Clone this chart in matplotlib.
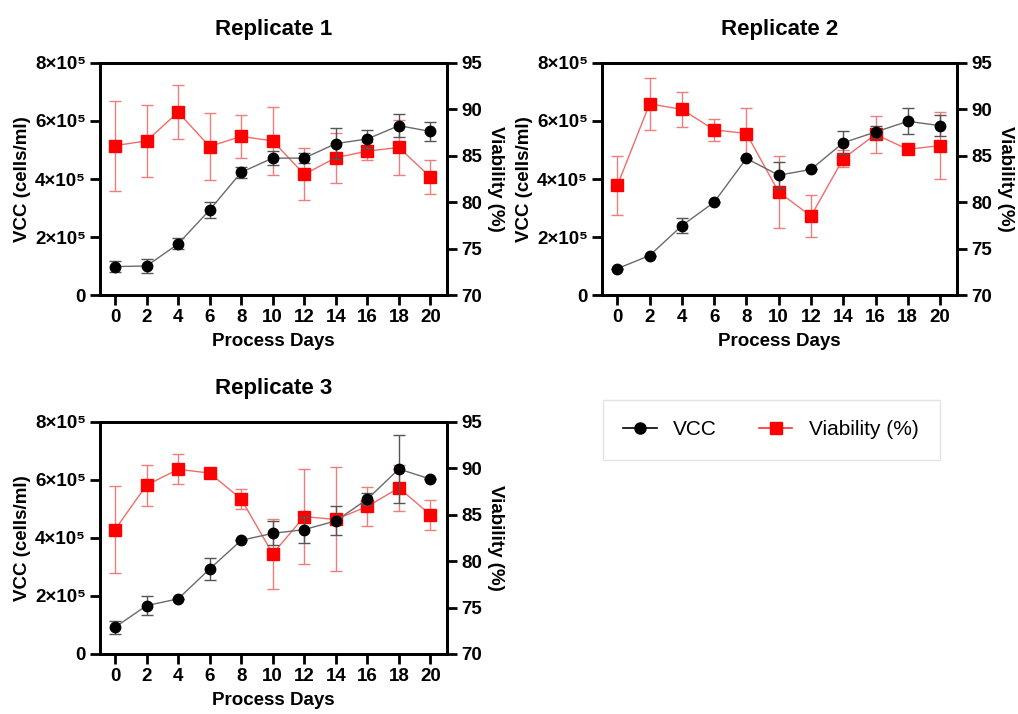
import numpy as np
import matplotlib
matplotlib.use("Agg")
import matplotlib.pyplot as plt
from matplotlib.lines import Line2D

plt.rcParams['font.family'] = ['Liberation Sans', 'DejaVu Sans']

days = [0, 2, 4, 6, 8, 10, 12, 14, 16, 18, 20]

# VCC (x1e5 cells/ml) and SD
vcc_1 = [0.98, 1.00, 1.76, 2.93, 4.23, 4.72, 4.72, 5.22, 5.38, 5.84, 5.64]
vcc_1_err = [0.20, 0.24, 0.19, 0.28, 0.20, 0.25, 0.18, 0.54, 0.32, 0.39, 0.33]
vcc_2 = [0.91, 1.36, 2.39, 3.20, 4.71, 4.13, 4.33, 5.25, 5.62, 5.99, 5.84]
vcc_2_err = [0.0, 0.0, 0.26, 0.0, 0.0, 0.45, 0.0, 0.39, 0.20, 0.45, 0.35]
vcc_3 = [0.92, 1.67, 1.90, 2.93, 3.92, 4.16, 4.29, 4.59, 5.34, 6.38, 6.03]
vcc_3_err = [0.22, 0.32, 0.0, 0.39, 0.0, 0.41, 0.45, 0.50, 0.20, 1.18, 0.0]

# Viability (%) and SD
via_1 = [86.1, 86.6, 89.7, 86.0, 87.1, 86.6, 83.0, 84.8, 85.5, 85.9, 82.7]
via_1_err = [4.85, 3.9, 2.9, 3.6, 2.3, 3.7, 2.8, 2.7, 1.0, 3.0, 1.8]
via_2 = [81.8, 90.6, 90.0, 87.8, 87.4, 81.1, 78.5, 84.7, 87.3, 85.7, 86.1]
via_2_err = [3.2, 2.8, 1.9, 1.2, 2.8, 3.9, 2.3, 0.9, 2.0, 0.3, 3.6]
via_3 = [83.4, 88.2, 89.9, 89.5, 86.7, 80.8, 84.8, 84.5, 85.9, 87.9, 85.0]
via_3_err = [4.7, 2.2, 1.6, 0.3, 1.1, 3.8, 5.1, 5.6, 2.1, 2.5, 1.6]

titles = ['Replicate 1', 'Replicate 2', 'Replicate 3']
vcc_ticks = [0, 2, 4, 6, 8]
vcc_labels = ['0', '2×10⁵', '4×10⁵', '6×10⁵', '8×10⁵']

fig = plt.figure(figsize=(10.18, 7.14), dpi=100)

W, H = 1018, 714
boxes = [(100, 63, 347, 232), (602, 63, 355, 232), (100, 422, 347, 232)]
data = [(vcc_1, vcc_1_err, via_1, via_1_err),
        (vcc_2, vcc_2_err, via_2, via_2_err),
        (vcc_3, vcc_3_err, via_3, via_3_err)]

for i, (x0, y0, w, h) in enumerate(boxes):
    ax = fig.add_axes([x0 / W, 1 - (y0 + h) / H, w / W, h / H])
    ax2 = ax.twinx()
    ax.set_zorder(ax2.get_zorder() + 1)
    ax.patch.set_visible(False)

    vcc, vcc_err, via, via_err = data[i]
    ax2.errorbar(days, via, yerr=via_err, color='#f26b6b', lw=1.0,
                 ecolor='#f07c7c', elinewidth=1.0, capsize=4.5, capthick=1.0,
                 marker='s', markersize=8, mfc='#ff0000', mec='#ff0000')
    ax.errorbar(days, vcc, yerr=vcc_err, color='#6a6a6a', lw=1.0,
                ecolor='#555555', elinewidth=1.0, capsize=4.5, capthick=1.0,
                marker='o', markersize=7.5, mfc='black', mec='black')

    ax.set_xlim(-0.95, 21.05)
    ax.set_ylim(0, 8)
    ax2.set_ylim(70, 95)
    ax.set_xticks(days)
    ax.set_yticks(vcc_ticks)
    ax.set_yticklabels(vcc_labels)
    ax2.set_yticks([70, 75, 80, 85, 90, 95])

    for a in (ax, ax2):
        for s in a.spines.values():
            s.set_linewidth(2.0)
        a.tick_params(direction='out', length=7, width=2.0, labelsize=13.5, pad=3)
        for lab in a.get_xticklabels() + a.get_yticklabels():
            lab.set_fontweight('bold')

    ax.set_xlabel('Process Days', fontsize=13.5, fontweight='bold', labelpad=5)
    ax.set_ylabel('VCC (cells/ml)', fontsize=13.5, fontweight='bold', labelpad=3)
    ax2.set_ylabel('Viability (%)', fontsize=13.5, fontweight='bold',
                   rotation=270, labelpad=16)
    ax.set_title(titles[i], fontsize=16, fontweight='bold', pad=20)

handles = [Line2D([], [], color='black', lw=1.2, marker='o', markersize=8,
                  mfc='black', mec='black'),
           Line2D([], [], color='#ff3030', lw=1.2, marker='s', markersize=8,
                  mfc='#ff0000', mec='#ff0000')]
leg = fig.legend(handles, ['VCC', 'Viability (%)'], loc='center',
                 bbox_to_anchor=(0.7574, 0.3978), ncol=2, fontsize=15,
                 frameon=True, fancybox=False, edgecolor='#dddddd',
                 handlelength=1.6, columnspacing=2.0, borderpad=1.0,
                 handletextpad=0.8, borderaxespad=0)
leg.get_frame().set_linewidth(1.0)

fig.savefig('out.png', dpi=100)
